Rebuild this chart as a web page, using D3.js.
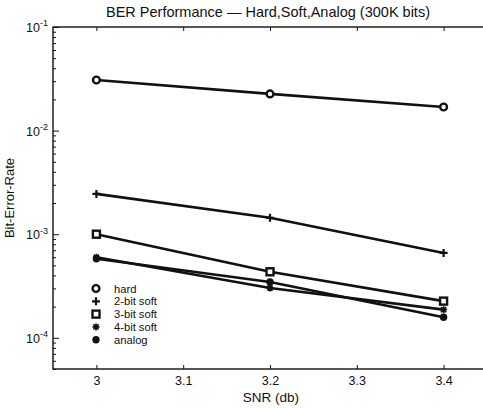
<!DOCTYPE html>
<html>
<head>
<meta charset="utf-8">
<script src="https://cdn.jsdelivr.net/npm/d3@7"></script>
<style>
  body { margin: 0; background: #fff; }
  svg { display: block; font-family: "Liberation Sans", Arial, Helvetica, sans-serif; }
  .axis path, .axis line { stroke: #111; }
  .axis text { fill: #111; font-size: 12.5px; }
</style>
</head>
<body>
<div id="chart"></div>
<script>
// SNR points (db)
const snr = [3, 3.2, 3.4];
// bit-error-rate per decoder
const hard = [0.0308, 0.0226, 0.0169];
const soft2 = [2.45e-3, 1.44e-3, 6.6e-4];
const soft3 = [1.0e-3, 4.34e-4, 2.26e-4];
const soft4 = [6.0e-4, 3.03e-4, 1.87e-4];
const analog = [5.8e-4, 3.46e-4, 1.58e-4];

const seriesNames = ['hard', '2-bit soft', '3-bit soft', '4-bit soft', 'analog'];
const seriesValues = [hard, soft2, soft3, soft4, analog];
const markerKinds = ['circle', 'plus', 'square', 'star', 'dot'];

const xTicks = [3, 3.1, 3.2, 3.3, 3.4];
const yDecades = [1e-4, 1e-3, 1e-2, 1e-1];
const exponents = ['-4', '-3', '-2', '-1'];

const width = 483;
const height = 408;
const margin = { top: 27, right: -4, bottom: 39, left: 53 };

const svg = d3.select('#chart')
  .append('svg')
  .attr('width', width)
  .attr('height', height);

const x = d3.scaleLinear()
  .domain([2.95, 3.45])
  .range([margin.left, width - margin.right]);
const y = d3.scaleLog()
  .domain([5e-5, 1e-1])
  .range([height - margin.bottom, margin.top]);

// minor log ticks
const minor = [];
[1e-5, 1e-4, 1e-3, 1e-2].forEach(d => {
  for (let k = 2; k <= 9; k++) {
    const v = d * k;
    if (v >= 5e-5 && v < 1e-1) minor.push(v);
  }
});

// frame
svg.append('rect')
  .attr('x', margin.left)
  .attr('y', margin.top)
  .attr('width', x(3.45) - margin.left)
  .attr('height', y(5e-5) - margin.top)
  .attr('fill', 'none')
  .attr('stroke', '#111')
  .attr('stroke-width', 1.4);

// bottom axis
const xAxis = svg.append('g')
  .attr('class', 'axis')
  .attr('transform', `translate(0,${y(5e-5)})`)
  .call(d3.axisBottom(x).tickValues(xTicks).tickSize(-4).tickPadding(7).tickFormat(d3.format('')));
xAxis.select('.domain').remove();

// top axis ticks
const topAxis = svg.append('g')
  .attr('class', 'axis')
  .attr('transform', `translate(0,${margin.top})`)
  .call(d3.axisTop(x).tickValues(xTicks).tickSize(-4).tickFormat(''));
topAxis.select('.domain').remove();

// left axis: decades
const yAxis = svg.append('g')
  .attr('class', 'axis')
  .attr('transform', `translate(${margin.left},0)`)
  .call(d3.axisLeft(y).tickValues(yDecades).tickSize(-6).tickFormat(''));
yAxis.select('.domain').remove();
yAxis.selectAll('.tick').each(function (d, i) {
  const t = d3.select(this).select('text')
    .attr('x', -5)
    .attr('dy', '0.38em')
    .attr('text-anchor', 'end');
  t.append('tspan').style('font-size', '12.5px').text('10');
  t.append('tspan')
    .attr('dy', '-0.65em')
    .style('font-size', '9px')
    .text(exponents[i]);
});

// left axis: minor ticks
const yMinor = svg.append('g')
  .attr('class', 'axis')
  .attr('transform', `translate(${margin.left},0)`)
  .call(d3.axisLeft(y).tickValues(minor).tickSize(-3).tickFormat(''));
yMinor.select('.domain').remove();

// right side ticks (mostly off-canvas)
svg.append('g')
  .attr('class', 'axis')
  .attr('transform', `translate(${x(3.45)},0)`)
  .call(d3.axisRight(y).tickValues(yDecades.concat(minor)).tickSize(-4).tickFormat(''))
  .select('.domain').remove();

// lines
const line = d3.line()
  .x((d, i) => x(snr[i]))
  .y(d => y(d));

seriesValues.forEach(vals => {
  svg.append('path')
    .datum(vals)
    .attr('d', line)
    .attr('fill', 'none')
    .attr('stroke', '#111')
    .attr('stroke-width', 2.6);
});

function drawMarker(g, kind, cx, cy) {
  if (kind === 'circle') {
    g.append('circle').attr('cx', cx).attr('cy', cy).attr('r', 3.4)
      .attr('fill', '#fff').attr('stroke', '#111').attr('stroke-width', 2.4);
  } else if (kind === 'plus') {
    g.append('path')
      .attr('d', `M${cx - 4},${cy}H${cx + 4}M${cx},${cy - 4}V${cy + 4}`)
      .attr('stroke', '#111').attr('stroke-width', 2.2);
  } else if (kind === 'square') {
    g.append('rect').attr('x', cx - 3.5).attr('y', cy - 3.5).attr('width', 7).attr('height', 7)
      .attr('fill', '#fff').attr('stroke', '#111').attr('stroke-width', 2.4);
  } else if (kind === 'star') {
    g.append('path')
      .attr('d', `M${cx - 3.5},${cy}H${cx + 3.5}M${cx},${cy - 3.5}V${cy + 3.5}` +
        `M${cx - 2.6},${cy - 2.6}L${cx + 2.6},${cy + 2.6}M${cx - 2.6},${cy + 2.6}L${cx + 2.6},${cy - 2.6}`)
      .attr('stroke', '#111').attr('stroke-width', 1.7);
  } else {
    g.append('circle').attr('cx', cx).attr('cy', cy).attr('r', 3.7).attr('fill', '#111');
  }
}

const marks = svg.append('g');
seriesValues.forEach((vals, s) => {
  vals.forEach((v, i) => drawMarker(marks, markerKinds[s], x(snr[i]), y(v)));
});

// legend
const legend = svg.append('g');
seriesNames.forEach((name, i) => {
  const ly = 288.5 + i * 12.8;
  drawMarker(legend, markerKinds[i], 96, ly);
  legend.append('text')
    .attr('x', 114)
    .attr('y', ly)
    .attr('dy', '0.36em')
    .style('font-size', '11.2px')
    .attr('fill', '#111')
    .text(name);
});

// title and axis labels
svg.append('text')
  .attr('x', 268)
  .attr('y', 16.5)
  .attr('text-anchor', 'middle')
  .style('font-size', '14.5px')
  .attr('fill', '#111')
  .text('BER Performance — Hard,Soft,Analog (300K bits)');

svg.append('text')
  .attr('x', 271)
  .attr('y', 402)
  .attr('text-anchor', 'middle')
  .style('font-size', '13.5px')
  .attr('fill', '#111')
  .text('SNR (db)');

svg.append('text')
  .attr('transform', `translate(14,${(margin.top + y(5e-5)) / 2}) rotate(-90)`)
  .attr('text-anchor', 'middle')
  .style('font-size', '13px')
  .attr('fill', '#111')
  .text('Bit-Error-Rate');
</script>
</body>
</html>
